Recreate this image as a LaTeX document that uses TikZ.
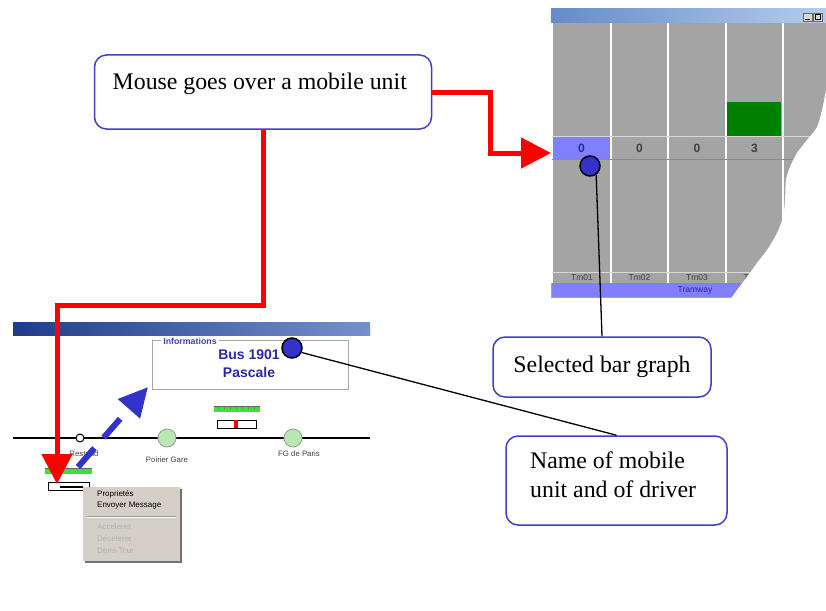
\documentclass[tikz,border=0pt]{standalone}
\usepackage{fontspec}
\setmainfont{Liberation Serif}
\setsansfont{Liberation Sans}
\usetikzlibrary{arrows.meta}

\definecolor{boxblue}{RGB}{64,64,200}
\definecolor{dotblue}{RGB}{51,51,204}
\definecolor{scrgray}{RGB}{164,164,164}
\definecolor{cellblue}{RGB}{128,128,255}
\definecolor{textblue}{RGB}{40,40,168}
\definecolor{stgreen}{RGB}{184,232,176}
\definecolor{menugray}{RGB}{212,208,200}
\definecolor{gaugegreen}{RGB}{60,225,60}
\definecolor{barsgreen}{RGB}{0,128,0}

\tikzset{
  callout/.style={draw=boxblue, line width=1.5pt, rounded corners=12pt, fill=white, inner sep=0pt},
  calltext/.style={font=\fontsize{23.8}{29}\selectfont, inner sep=0pt},
  redarrow/.style={red, line width=5pt, -{Triangle[length=30pt,width=30pt]}},
  bluedash/.style={dotblue, line width=6pt, dash pattern=on 25pt off 14pt, -{Triangle[length=29pt,width=28pt]}},
  bluedot/.style={circle, fill=dotblue, draw=black, line width=1.5pt, minimum size=20pt, inner sep=0pt},
  pointer/.style={black, line width=1.3pt},
  valtext/.style={font=\sffamily\bfseries\fontsize{12}{14}\selectfont, text=black!75, inner sep=0pt},
  tmtext/.style={font=\sffamily\fontsize{8.5}{10}\selectfont, text=black!75, inner sep=0pt},
  station/.style={circle, fill=stgreen, draw=black!40, line width=0.8pt, minimum size=18pt, inner sep=0pt},
  sttext/.style={font=\sffamily\fontsize{7.8}{9}\selectfont, text=black!75, inner sep=0pt},
  menutext/.style={anchor=west, font=\sffamily\fontsize{8}{9}\selectfont, inner sep=0pt},
  sepline/.style={white, line width=1.2pt}
}

\begin{document}
\begin{tikzpicture}[x=1pt,y=-1pt]
\useasboundingbox (0,0) rectangle (826,610);

% ---------- bar graph window (top right) ----------
\shade[left color={rgb,255:red,100;green,140;blue,200}, right color={rgb,255:red,180;green,205;blue,238}] (551,9) rectangle (826,23);
\node[draw=black!60, fill=black!15, minimum width=9pt, minimum height=8pt, inner sep=0pt] (btnmin) at (808,17) {};
\node[draw=black!60, fill=black!15, minimum width=9pt, minimum height=8pt, inner sep=0pt] (btnmax) at (818,17) {};
\draw[black, line width=0.8pt] (805,19.5) -- (810,19.5);
\draw[black, line width=0.8pt] (815.5,14.5) rectangle (820.5,19.5);
\fill[scrgray] (551,23) rectangle (826,298);
\fill[cellblue] (552,136) rectangle (611,159);
\fill[barsgreen] (727,102) rectangle (781,136);
\fill[cellblue] (552,283) rectangle (826,297);
\foreach \xx in {552,611,668,726,783} {
  \draw[sepline] (\xx,23) -- (\xx,283);
}
\draw[white!85!black, line width=1pt] (552,136) -- (826,136);
\draw[black!45, line width=0.8pt] (552,159) -- (826,159);
\draw[white!85!black, line width=1pt] (552,272) -- (826,272);
\node[valtext, text=textblue] (v1) at (581.5,148) {0};
\node[valtext] (v2) at (639.5,148) {0};
\node[valtext] (v3) at (697,148) {0};
\node[valtext] (v4) at (754.5,148) {3};
\node[tmtext] (tm1) at (582,277.5) {Tm01};
\node[tmtext] (tm2) at (639.5,277.5) {Tm02};
\node[tmtext] (tm3) at (697,277.5) {Tm03};
\node[tmtext] (tm4) at (754.5,277.5) {Tm04};
\node[tmtext, text=textblue] (tram) at (695,290) {Tramway};
\coordinate (arrin) at (551,153);
% torn edge
\fill[white] plot[smooth] coordinates {(827,80) (826,90) (822,110) (817,127) (807,140) (797,153) (790,167) (786,180) (785,200) (783,217) (777,233) (767,250) (757,263) (747,277) (737,290) (730,300)} -- (827,300) -- cycle;

% ---------- left window ----------
\shade[left color={rgb,255:red,30;green,60;blue,140}, right color={rgb,255:red,115;green,145;blue,205}] (13,322) rectangle (370,335);
\node[draw=black!35, line width=1pt, minimum width=196pt, minimum height=49pt, inner sep=0pt] (info) at (250,364.5) {};
\node[fill=white, inner xsep=2pt, inner ysep=0pt, font=\sffamily\bfseries\fontsize{8.8}{10}\selectfont, text=boxblue] (infolabel) at (190,341) {Informations};
\node[font=\sffamily\bfseries\fontsize{14}{16}\selectfont, text=textblue, inner sep=0pt] (busname) at (249,355) {Bus 1901};
\node[font=\sffamily\bfseries\fontsize{14}{16}\selectfont, text=textblue, inner sep=0pt] (driver) at (249,372) {Pascale};

% gauge near the middle
\fill[gaugegreen] (214,406) rectangle (260,412);
\draw[black!60, line width=0.7pt] (214,406) -- (260,406);
\foreach \xx in {218,224,230,236,242,248,254} {\draw[black!55, line width=0.6pt] (\xx,406) -- (\xx,409);}
\node[draw=black, line width=1pt, fill=white, minimum width=39pt, minimum height=8pt, inner sep=0pt] (gauge2) at (236.5,424) {};
\fill[red] (234,420) rectangle (238,428);

% track
\draw[black, line width=2pt] (13,438) -- (370,438);
\node[circle, draw=black, fill=white, line width=1pt, minimum size=8pt, inner sep=0pt] (st0) at (80,438) {};
\node[station] (st1) at (167,438) {};
\node[station] (st2) at (293,438) {};
\node[sttext] (lab0) at (84,454) {Restaud};
\node[sttext] (lab1) at (167,460) {Poirier Gare};
\node[sttext] (lab2) at (299,454) {FG de Paris};

% mobile unit widget
\fill[gaugegreen] (45,468) rectangle (92,474);
\draw[black!60, line width=0.7pt] (45,468) -- (92,468);
\node[draw=black, line width=1pt, fill=white, minimum width=41pt, minimum height=8pt, inner sep=0pt] (unitbox) at (68.5,486) {};
\fill[black] (60,485.5) rectangle (83,488);

% context menu
\fill[black!55] (85,489) rectangle (182,563);
\node[fill=menugray, minimum width=97pt, minimum height=74pt, inner sep=0pt] (menu) at (131.5,524) {};
\node[menutext] (m1) at (97,494) {Proprietés};
\node[menutext] (m2) at (97,506) {Envoyer Message};
\draw[black!40, line width=0.8pt] (87,516.5) -- (176,516.5);
\draw[white, line width=0.8pt] (87,517.5) -- (176,517.5);
\node[menutext, text=black!30] (m3) at (97,527) {Accelerer};
\node[menutext, text=black!30] (m4) at (97,539) {Décelerer};
\node[menutext, text=black!30] (m5) at (97,551) {Demi-Tour};

% ---------- callout boxes ----------
\node[callout, minimum width=337pt, minimum height=74pt] (mouse) at (263,92) {};
\node[calltext, anchor=base west] (mousetext) at (112.5,89) {Mouse goes over a mobile unit};
\node[callout, minimum width=218pt, minimum height=60pt, calltext] (selbox) at (602,367) {Selected bar graph};
\node[callout, minimum width=221pt, minimum height=89pt] (namebox) at (616.5,480.5) {};
\node[calltext, anchor=north west, align=left] (nametext) at (530,452) {Name of mobile\\unit and of driver};

% ---------- arrows ----------
\coordinate (tip2) at (57,484);
\coordinate (bstart) at (78,467);
\coordinate (btip) at (148,387);
\draw[redarrow] (mouse.east) -- (490,92) -- (490,153) -- (arrin);
\draw[redarrow] (mouse.south) |- (57,305) -- (tip2);
\draw[bluedash] (bstart) -- (btip);

% ---------- dots and pointers ----------
\node[bluedot] (dotA) at (590,166) {};
\node[bluedot] (dotB) at (292,348) {};
\draw[pointer] (dotA.-55) -- (selbox.north);
\draw[pointer] (dotB.-25) -- (namebox.north);
\end{tikzpicture}
\end{document}
